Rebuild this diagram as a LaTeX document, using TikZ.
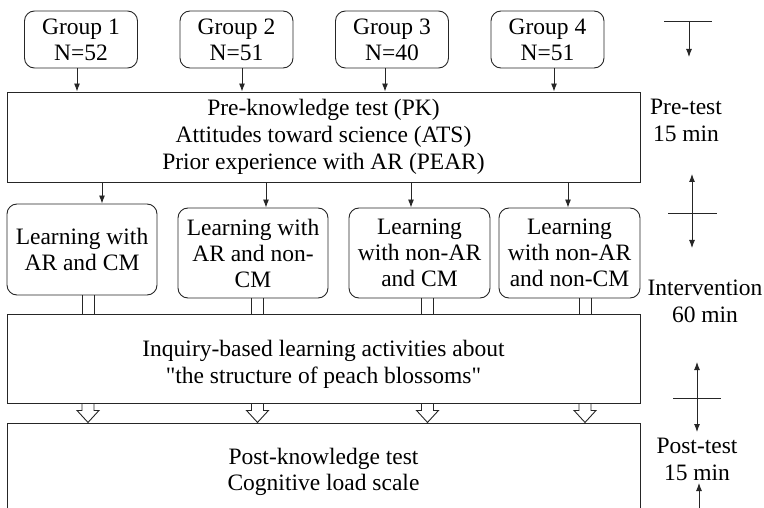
\documentclass[tikz,border=0pt]{standalone}
\usepackage{fontspec}
\setmainfont{Liberation Serif}[Ligatures=TeXOff]
\usetikzlibrary{arrows.meta}
\begin{document}
\begin{tikzpicture}[x=1pt,y=-1pt,
  every node/.style={font=\fontsize{23.5}{26}\selectfont, inner sep=0pt, align=center},
  phase/.style={font=\fontsize{23.5}{27}\selectfont},
  ink/.style={draw=black!85, line width=0.9pt},
  groupbox/.style={ink, rounded corners=10pt, minimum width=113pt, minimum height=57pt},
  learnbox/.style={ink, rounded corners=10pt, minimum height=90pt},
  stagebox/.style={ink, minimum width=633pt},
  flow/.style={ink, -{Latex[length=8pt,width=6pt]}},
  hollow/.style={ink, line join=miter}]
  \clip (0,0) rectangle (764,508);

  % participant groups
  \node[groupbox] (g1) at (81,39.5)    {Group 1\\N=52};
  \node[groupbox] (g2) at (236.5,39.5) {Group 2\\N=51};
  \node[groupbox] (g3) at (392,39.5)   {Group 3\\N=40};
  \node[groupbox] (g4) at (547.5,39.5) {Group 4\\N=51};

  % pre-test
  \node[stagebox, minimum height=90pt, font=\fontsize{23.5}{27}\selectfont] (pk) at (323.5,137)
    {Pre-knowledge test (PK)\\Attitudes toward science (ATS)\\Prior experience with AR (PEAR)};

  % learning conditions
  \node[learnbox, minimum width=150pt, minimum height=91pt] (l1) at (82,249.5) {Learning with\\AR and CM};
  \node[learnbox, minimum width=150pt] (l2) at (253,253)   {Learning with\\AR and non-\\CM};
  \node[learnbox, minimum width=141pt] (l3) at (419.5,253) {Learning\\with non-AR\\and CM};
  \node[learnbox, minimum width=141pt] (l4) at (569.5,253) {Learning\\with non-AR\\and non-CM};

  % common activity and post-test
  \node[stagebox, minimum height=89pt, font=\fontsize{23.5}{28}\selectfont] (inq) at (323.5,358.5)
    {\rule{0pt}{28pt}Inquiry-based learning activities about\\"the structure of peach blossoms"};
  \node[stagebox, minimum height=92pt] (post) at (323.5,469)
    {\rule{0pt}{22pt}Post-knowledge test\\Cognitive load scale};

  % groups into pre-test
  \draw[flow] ([xshift=-4pt]g1.south) -- ([xshift=-4pt]g1.south |- pk.north);
  \draw[flow] ([xshift=5.5pt]g2.south) -- ([xshift=5.5pt]g2.south |- pk.north);
  \draw[flow] ([xshift=-7pt]g3.south) -- ([xshift=-7pt]g3.south |- pk.north);
  \draw[flow] ([xshift=6.5pt]g4.south) -- ([xshift=6.5pt]g4.south |- pk.north);

  % pre-test into learning conditions
  \draw[flow] ([xshift=20pt]l1.north |- pk.south) -- ([xshift=20pt]l1.north);
  \draw[flow] ([xshift=13pt]l2.north |- pk.south) -- ([xshift=13pt]l2.north);
  \draw[flow] ([xshift=-8.5pt]l3.north |- pk.south) -- ([xshift=-8.5pt]l3.north);
  \draw[flow] ([xshift=-1.5pt]l4.north |- pk.south) -- ([xshift=-1.5pt]l4.north);

  % double-line links into the activity
  \coordinate (c1) at ([xshift=6pt]l1.south);
  \coordinate (c2) at ([xshift=4.5pt]l2.south);
  \coordinate (c3) at ([xshift=8pt]l3.south);
  \coordinate (c4) at ([xshift=15.5pt]l4.south);
  \foreach \c in {c1,c2,c3,c4} {
    \draw[ink] ([xshift=-6pt]\c) -- ([xshift=-6pt]\c |- inq.north);
    \draw[ink] ([xshift=6pt]\c) -- ([xshift=6pt]\c |- inq.north);
    % hollow block arrow into the post-test
    \draw[hollow] ([xshift=-6pt]\c |- inq.south) -- ++(0,7) -- ++(-5,0)
      -- ++(11,12) -- ++(11,-12) -- ++(-5,0) -- ++(0,-7);
  }

  % phase labels
  \node[phase] (pre)  at (686,120) {Pre-test\\15 min};
  \node[phase] (intv) at (705,301) {Intervention\\60 min};
  \node[phase] (pst)  at (697,459) {Post-test\\15 min};

  % time markers
  \coordinate (t1l) at (664,21);  \coordinate (t1r) at (712,21);
  \coordinate (t1c) at (689,21);  \coordinate (t1d) at (689,57);
  \draw[ink] (t1l) -- (t1r);
  \draw[flow] (t1c) -- (t1d);

  \coordinate (t2l) at (668,213); \coordinate (t2r) at (717,213);
  \coordinate (t2c) at (692,213);
  \coordinate (t2u) at (692,174); \coordinate (t2d) at (692,248);
  \draw[ink] (t2l) -- (t2r);
  \draw[flow] (t2c) -- (t2u);
  \draw[flow] (t2c) -- (t2d);

  \coordinate (t3l) at (673,398); \coordinate (t3r) at (721,398);
  \coordinate (t3c) at (697,398);
  \coordinate (t3u) at (697,362); \coordinate (t3d) at (697,432);
  \draw[ink] (t3l) -- (t3r);
  \draw[flow] (t3c) -- (t3u);
  \draw[flow] (t3c) -- (t3d);

  \coordinate (t4b) at (699,512); \coordinate (t4u) at (699,483);
  \draw[flow] (t4b) -- (t4u);
\end{tikzpicture}
\end{document}
